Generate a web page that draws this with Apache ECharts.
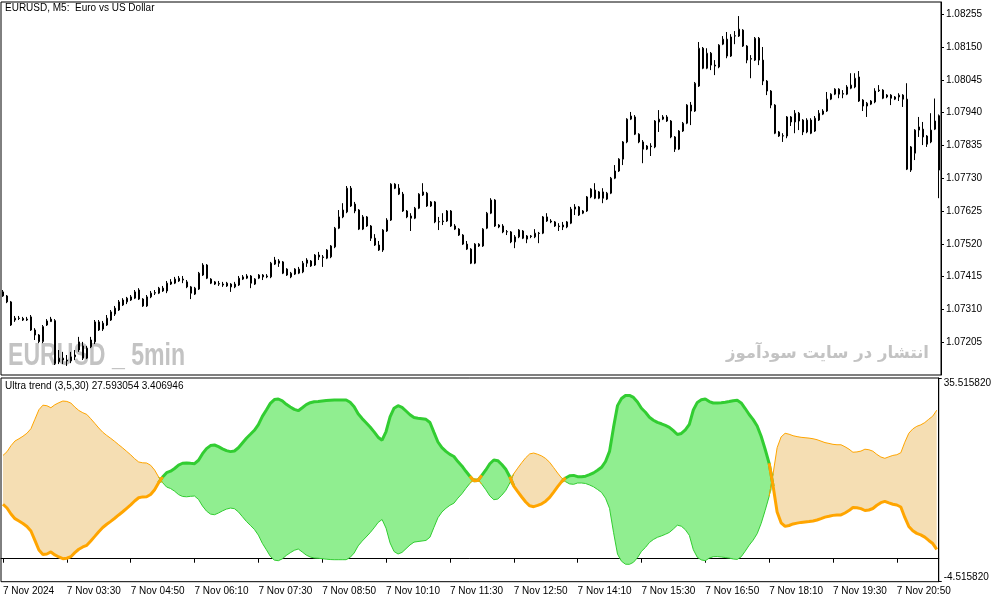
<!DOCTYPE html>
<html>
<head>
<meta charset="utf-8">
<script src="https://cdn.jsdelivr.net/npm/echarts@6/dist/echarts.min.js"></script>
<style>
html,body{margin:0;padding:0;background:#fff;}
#chart{width:994px;height:603px;}
</style>
</head>
<body>
<div id="chart"></div>
<script>
// ---- data ----
const timeLabels = ['7 Nov 2024','7 Nov 03:30','7 Nov 04:50','7 Nov 06:10','7 Nov 07:30','7 Nov 08:50','7 Nov 10:10','7 Nov 11:30','7 Nov 12:50','7 Nov 14:10','7 Nov 15:30','7 Nov 16:50','7 Nov 18:10','7 Nov 19:30','7 Nov 20:50'];

const openP = [
1.07366,1.07353,1.07334,1.07276,1.07282,1.07281,1.07276,1.07286,1.07244,1.07228,
1.07207,1.07260,1.07271,1.07274,1.07142,1.07154,1.07148,1.07145,1.07158,1.07180,
1.07193,1.07154,1.07190,1.07206,1.07270,1.07247,1.07260,1.07276,1.07295,1.07308,
1.07324,1.07334,1.07340,1.07346,1.07372,1.07343,1.07321,1.07350,1.07362,1.07362,
1.07378,1.07369,1.07391,1.07394,1.07401,1.07404,1.07398,1.07382,1.07359,1.07375,
1.07420,1.07452,1.07407,1.07398,1.07391,1.07391,1.07385,1.07391,1.07382,1.07388,
1.07407,1.07410,1.07417,1.07391,1.07410,1.07420,1.07414,1.07414,1.07455,1.07465,
1.07462,1.07439,1.07414,1.07423,1.07426,1.07430,1.07468,1.07465,1.07452,1.07484,
1.07478,1.07474,1.07478,1.07510,1.07570,1.07606,1.07622,1.07698,1.07647,1.07628,
1.07567,1.07606,1.07577,1.07538,1.07516,1.07500,1.07561,1.07596,1.07711,1.07698,
1.07679,1.07625,1.07609,1.07602,1.07634,1.07676,1.07682,1.07641,1.07654,1.07590,
1.07593,1.07593,1.07625,1.07577,1.07567,1.07548,1.07519,1.07503,1.07458,1.07513,
1.07513,1.07570,1.07618,1.07660,1.07580,1.07577,1.07558,1.07558,1.07526,1.07542,
1.07561,1.07535,1.07545,1.07542,1.07554,1.07554,1.07606,1.07593,1.07590,1.07577,
1.07580,1.07574,1.07586,1.07631,1.07638,1.07618,1.07625,1.07670,1.07692,1.07666,
1.07686,1.07663,1.07682,1.07730,1.07753,1.07791,1.07846,1.07919,1.07926,1.07871,
1.07846,1.07823,1.07833,1.07830,1.07910,1.07919,1.07926,1.07913,1.07862,1.07823,
1.07881,1.07906,1.07964,1.07945,1.08025,1.08146,1.08082,1.08130,1.08092,1.08086,
1.08159,1.08175,1.08121,1.08185,1.08185,1.08204,1.08153,1.08111,1.08108,1.08178,
1.08108,1.08041,1.08009,1.07964,1.07878,1.07865,1.07865,1.07926,1.07910,1.07938,
1.07916,1.07878,1.07916,1.07881,1.07916,1.07935,1.07945,1.07983,1.07999,1.08015,
1.07999,1.07999,1.08018,1.08022,1.08054,1.07980,1.07961,1.07967,1.07974,1.08012,
1.08012,1.07996,1.07996,1.07983,1.07990,1.07996,1.07983,1.07756,1.07810,1.07884,
1.07887,1.07865,1.07846,1.07887,1.07930];

const closeP = [
1.07353,1.07334,1.07260,1.07282,1.07281,1.07276,1.07279,1.07244,1.07228,1.07207,
1.07255,1.07273,1.07279,1.07137,1.07154,1.07148,1.07145,1.07158,1.07164,1.07206,
1.07154,1.07186,1.07212,1.07270,1.07244,1.07266,1.07282,1.07302,1.07314,1.07334,
1.07340,1.07346,1.07350,1.07366,1.07343,1.07321,1.07350,1.07362,1.07364,1.07378,
1.07369,1.07394,1.07398,1.07407,1.07410,1.07407,1.07382,1.07362,1.07378,1.07426,
1.07452,1.07410,1.07394,1.07391,1.07393,1.07388,1.07394,1.07382,1.07391,1.07410,
1.07414,1.07417,1.07394,1.07407,1.07420,1.07414,1.07417,1.07458,1.07468,1.07458,
1.07426,1.07420,1.07426,1.07439,1.07439,1.07458,1.07458,1.07449,1.07484,1.07478,
1.07476,1.07500,1.07513,1.07570,1.07606,1.07628,1.07698,1.07641,1.07625,1.07567,
1.07606,1.07577,1.07538,1.07516,1.07500,1.07564,1.07596,1.07711,1.07698,1.07679,
1.07625,1.07606,1.07602,1.07634,1.07679,1.07686,1.07641,1.07654,1.07590,1.07591,
1.07591,1.07625,1.07577,1.07567,1.07548,1.07519,1.07503,1.07458,1.07519,1.07519,
1.07567,1.07618,1.07660,1.07577,1.07574,1.07558,1.07559,1.07526,1.07542,1.07564,
1.07538,1.07545,1.07543,1.07554,1.07553,1.07606,1.07593,1.07590,1.07577,1.07575,
1.07574,1.07590,1.07631,1.07638,1.07612,1.07625,1.07670,1.07695,1.07666,1.07686,
1.07666,1.07682,1.07730,1.07753,1.07791,1.07846,1.07919,1.07929,1.07871,1.07846,
1.07823,1.07833,1.07831,1.07913,1.07919,1.07926,1.07913,1.07862,1.07823,1.07881,
1.07906,1.07964,1.07945,1.08034,1.08146,1.08082,1.08130,1.08092,1.08089,1.08156,
1.08175,1.08121,1.08182,1.08186,1.08207,1.08153,1.08108,1.08113,1.08178,1.08108,
1.08041,1.08009,1.07964,1.07874,1.07865,1.07866,1.07926,1.07910,1.07938,1.07913,
1.07878,1.07916,1.07874,1.07922,1.07938,1.07945,1.07983,1.07999,1.08015,1.07999,
1.08001,1.08022,1.08028,1.08050,1.07977,1.07961,1.07970,1.07977,1.08009,1.08010,
1.07986,1.07990,1.07986,1.07990,1.07996,1.07983,1.07759,1.07830,1.07884,1.07894,
1.07862,1.07839,1.07884,1.07913,1.07756];

const highP = [
1.07372,1.07356,1.07337,1.07289,1.07289,1.07286,1.07286,1.07292,1.07250,1.07231,
1.07260,1.07279,1.07286,1.07279,1.07180,1.07174,1.07164,1.07174,1.07180,1.07222,
1.07206,1.07193,1.07222,1.07276,1.07276,1.07273,1.07292,1.07308,1.07321,1.07340,
1.07346,1.07350,1.07356,1.07372,1.07378,1.07346,1.07356,1.07369,1.07372,1.07382,
1.07385,1.07401,1.07407,1.07414,1.07417,1.07417,1.07404,1.07385,1.07382,1.07430,
1.07458,1.07455,1.07410,1.07401,1.07401,1.07398,1.07398,1.07394,1.07398,1.07417,
1.07420,1.07423,1.07420,1.07410,1.07423,1.07423,1.07423,1.07462,1.07478,1.07471,
1.07465,1.07442,1.07430,1.07442,1.07446,1.07465,1.07474,1.07468,1.07487,1.07494,
1.07484,1.07503,1.07516,1.07574,1.07628,1.07650,1.07705,1.07705,1.07654,1.07631,
1.07612,1.07609,1.07580,1.07551,1.07529,1.07567,1.07602,1.07714,1.07714,1.07711,
1.07686,1.07628,1.07618,1.07638,1.07682,1.07714,1.07686,1.07657,1.07657,1.07606,
1.07618,1.07628,1.07628,1.07583,1.07570,1.07551,1.07529,1.07506,1.07522,1.07522,
1.07570,1.07622,1.07666,1.07663,1.07583,1.07583,1.07564,1.07561,1.07548,1.07567,
1.07564,1.07548,1.07548,1.07567,1.07558,1.07609,1.07618,1.07599,1.07593,1.07586,
1.07590,1.07593,1.07638,1.07647,1.07641,1.07628,1.07673,1.07698,1.07714,1.07689,
1.07698,1.07686,1.07734,1.07772,1.07794,1.07849,1.07922,1.07942,1.07932,1.07874,
1.07852,1.07836,1.07842,1.07916,1.07948,1.07932,1.07932,1.07916,1.07865,1.07884,
1.07910,1.07967,1.07974,1.08038,1.08166,1.08150,1.08146,1.08134,1.08108,1.08159,
1.08185,1.08198,1.08191,1.08201,1.08249,1.08207,1.08156,1.08124,1.08182,1.08182,
1.08150,1.08044,1.08012,1.07967,1.07881,1.07874,1.07929,1.07929,1.07948,1.07942,
1.07919,1.07922,1.07922,1.07929,1.07948,1.07951,1.08006,1.08002,1.08018,1.08018,
1.08012,1.08028,1.08066,1.08066,1.08073,1.07983,1.07974,1.07980,1.08018,1.08028,
1.08015,1.07999,1.07999,1.07993,1.08002,1.07999,1.08034,1.07833,1.07887,1.07926,
1.07910,1.07868,1.07938,1.07985,1.07934];

const lowP = [
1.07350,1.07330,1.07257,1.07270,1.07276,1.07273,1.07273,1.07241,1.07212,1.07202,
1.07202,1.07257,1.07270,1.07132,1.07135,1.07135,1.07129,1.07138,1.07148,1.07174,
1.07148,1.07151,1.07186,1.07199,1.07241,1.07241,1.07257,1.07273,1.07289,1.07305,
1.07321,1.07327,1.07337,1.07343,1.07340,1.07318,1.07318,1.07346,1.07356,1.07359,
1.07366,1.07362,1.07388,1.07391,1.07398,1.07394,1.07378,1.07343,1.07356,1.07372,
1.07417,1.07407,1.07391,1.07388,1.07385,1.07382,1.07382,1.07366,1.07378,1.07385,
1.07404,1.07407,1.07378,1.07388,1.07407,1.07404,1.07410,1.07410,1.07452,1.07446,
1.07423,1.07417,1.07410,1.07420,1.07423,1.07426,1.07446,1.07446,1.07449,1.07468,
1.07446,1.07471,1.07474,1.07506,1.07567,1.07602,1.07618,1.07638,1.07618,1.07564,
1.07564,1.07574,1.07529,1.07513,1.07497,1.07494,1.07558,1.07593,1.07695,1.07676,
1.07622,1.07602,1.07561,1.07599,1.07631,1.07673,1.07638,1.07638,1.07586,1.07564,
1.07580,1.07590,1.07574,1.07564,1.07545,1.07516,1.07500,1.07455,1.07455,1.07510,
1.07510,1.07567,1.07615,1.07574,1.07570,1.07554,1.07548,1.07522,1.07506,1.07538,
1.07535,1.07522,1.07538,1.07538,1.07522,1.07551,1.07590,1.07586,1.07574,1.07561,
1.07564,1.07570,1.07583,1.07612,1.07609,1.07615,1.07622,1.07666,1.07663,1.07663,
1.07650,1.07660,1.07679,1.07727,1.07750,1.07772,1.07842,1.07916,1.07868,1.07842,
1.07778,1.07820,1.07801,1.07826,1.07878,1.07916,1.07910,1.07858,1.07814,1.07820,
1.07878,1.07903,1.07900,1.07942,1.08022,1.08079,1.08079,1.08076,1.08060,1.08082,
1.08156,1.08114,1.08118,1.08159,1.08182,1.08150,1.08098,1.08050,1.08105,1.08092,
1.08028,1.07996,1.07954,1.07871,1.07862,1.07846,1.07858,1.07897,1.07874,1.07884,
1.07868,1.07874,1.07871,1.07878,1.07913,1.07932,1.07942,1.07980,1.07996,1.07986,
1.07986,1.07996,1.08015,1.08018,1.07974,1.07945,1.07926,1.07964,1.07970,1.08006,
1.07983,1.07986,1.07964,1.07980,1.07977,1.07958,1.07756,1.07750,1.07788,1.07862,
1.07836,1.07830,1.07842,1.07884,1.07666];

// Ultra trend buffers (bold line and its mirror line)
const ultraUp = [
10.70,9.97,8.79,7.87,7.42,6.93,6.34,5.45,3.59,1.72,
0.83,0.93,1.33,0.74,0.34,0.01,0.09,0.40,1.19,1.86,
2.31,2.64,3.49,4.39,5.31,6.14,6.77,7.34,7.95,8.60,
9.23,9.91,10.58,11.35,11.98,12.15,12.19,12.63,13.57,14.94,
16.06,16.91,17.20,17.73,18.40,18.76,18.83,18.74,18.68,19.35,
20.64,21.64,22.23,22.35,22.02,21.60,21.25,21.05,21.17,21.80,
22.74,23.67,24.45,25.24,26.36,27.97,29.23,30.53,31.27,31.39,
31.02,30.35,29.82,29.35,29.09,29.68,30.29,30.66,30.86,30.90,
31.00,31.08,31.16,31.19,31.19,31.19,31.19,30.74,29.88,28.48,
27.54,26.73,25.89,24.93,23.88,23.29,25.00,27.89,29.58,30.07,
29.76,29.03,28.29,27.74,27.62,27.52,27.40,26.77,24.83,22.94,
21.82,21.09,20.50,20.09,19.09,18.24,17.18,16.20,15.32,15.38,
16.38,17.44,18.66,19.40,19.27,18.52,17.58,16.12,14.29,13.19,
12.13,11.15,10.40,10.23,10.48,10.80,11.31,12.05,13.10,14.16,
15.14,15.87,16.30,16.38,16.12,16.12,16.22,16.51,16.87,17.40,
17.97,19.11,21.09,25.81,30.09,31.49,32.08,32.10,31.70,30.80,
29.56,28.78,27.81,27.22,26.79,26.52,26.20,25.83,25.16,24.41,
24.61,25.30,26.40,29.23,30.72,31.23,31.39,30.88,30.60,30.58,
30.66,30.76,30.88,31.05,31.13,30.62,29.52,28.34,27.34,26.08,
24.06,21.52,18.75,14.25,9.19,7.06,6.35,6.53,6.83,7.00,
7.14,7.22,7.30,7.42,7.61,7.89,8.18,8.34,8.52,8.60,
8.60,8.99,9.46,10.07,10.01,9.85,9.48,9.58,9.87,10.50,
11.01,11.27,10.97,10.70,10.56,10.17,8.11,6.34,5.49,4.98,
4.69,4.25,3.59,2.98,1.82];

const ultraDn = [
20.30,21.03,22.21,23.13,23.58,24.07,24.66,25.55,27.41,29.28,
30.17,30.07,29.67,30.26,30.66,30.99,30.91,30.60,29.81,29.14,
28.69,28.36,27.51,26.61,25.69,24.86,24.23,23.66,23.05,22.40,
21.77,21.09,20.42,19.65,19.02,18.85,18.81,18.37,17.43,16.06,
14.94,14.09,13.80,13.27,12.60,12.24,12.17,12.26,12.32,11.65,
10.36,9.36,8.77,8.65,8.98,9.40,9.75,9.95,9.83,9.20,
8.26,7.33,6.55,5.76,4.64,3.03,1.77,0.47,-0.27,-0.39,
-0.02,0.65,1.18,1.65,1.91,1.32,0.71,0.34,0.14,0.10,
0.00,-0.08,-0.16,-0.19,-0.19,-0.19,-0.19,0.26,1.12,2.52,
3.46,4.27,5.11,6.07,7.12,7.71,6.00,3.11,1.42,0.93,
1.24,1.97,2.71,3.26,3.38,3.48,3.60,4.23,6.17,8.06,
9.18,9.91,10.50,10.91,11.91,12.76,13.82,14.80,15.68,15.62,
14.62,13.56,12.34,11.60,11.73,12.48,13.42,14.88,16.71,17.81,
18.87,19.85,20.60,20.77,20.52,20.20,19.69,18.95,17.90,16.84,
15.86,15.13,14.70,14.62,14.88,14.88,14.78,14.49,14.13,13.60,
13.03,11.89,9.91,5.19,0.91,-0.49,-1.08,-1.10,-0.70,0.20,
1.44,2.22,3.19,3.78,4.21,4.48,4.80,5.17,5.84,6.59,
6.39,5.70,4.60,1.77,0.28,-0.23,-0.39,0.12,0.40,0.42,
0.34,0.24,0.12,-0.05,-0.13,0.38,1.48,2.66,3.66,4.92,
6.94,9.48,12.25,16.75,21.81,23.94,24.65,24.47,24.17,24.00,
23.86,23.78,23.70,23.58,23.39,23.11,22.82,22.66,22.48,22.40,
22.40,22.01,21.54,20.93,20.99,21.15,21.52,21.42,21.13,20.50,
19.99,19.73,20.03,20.30,20.44,20.83,22.89,24.66,25.51,26.02,
26.31,26.75,27.41,28.02,29.18];

const priceAxis = {min: 1.071, max: 1.08294, interval: 0.00105};
const ultraAxis = {min: -4.515820, max: 35.515820};

// ---- build ----
const N = openP.length;
function pad(n){ return (n < 10 ? '0' : '') + n; }
const categories = [];
for (let i = 0; i < N; i++) { const m = 2 * 60 + 10 + 5 * i; categories.push(pad(Math.floor(m / 60)) + ':' + pad(m % 60)); }

const candles = openP.map((o, i) => [o, closeP[i], lowP[i], highP[i]]);
const isUp = ultraUp.map((v, i) => v >= ultraDn[i]);
const base = ultraUp.map((v, i) => Math.min(v, ultraDn[i]));
const upBand = ultraUp.map((v, i) => isUp[i] ? +(v - ultraDn[i]).toFixed(4) : 0);
const dnBand = ultraUp.map((v, i) => isUp[i] ? 0 : +(ultraDn[i] - v).toFixed(4));
function seg(arr, want) {
  return arr.map((v, i) => (isUp[i] === want || (i > 0 && isUp[i - 1] === want) || (i < N - 1 && isUp[i + 1] === want)) ? v : null);
}
const GREEN = '#32CD32', ORANGE = '#FFA500';
const FONT = '"Liberation Sans", Arial, sans-serif';

function lineSeries(name, data, color, width, z) {
  return { name, type: 'line', xAxisIndex: 1, yAxisIndex: 1, data, symbol: 'none', connectNulls: false,
    lineStyle: { color, width }, z, silent: true };
}

const chart = echarts.init(document.getElementById('chart'), null, { renderer: 'canvas' });
chart.setOption({
  animation: false,
  backgroundColor: '#ffffff',
  textStyle: { fontFamily: FONT },
  grid: [
    { left: 1, top: 2, width: 940, height: 373, show: true, borderColor: '#000', borderWidth: 1, backgroundColor: 'transparent' },
    { left: 1, top: 378, width: 940, height: 203.7, show: true, borderColor: '#000', borderWidth: 1, backgroundColor: 'transparent' }
  ],
  xAxis: [
    { type: 'category', gridIndex: 0, data: categories, boundaryGap: true,
      axisLine: { show: false }, axisTick: { show: false }, axisLabel: { show: false }, splitLine: { show: false } },
    { type: 'category', gridIndex: 1, data: categories, boundaryGap: true,
      axisLine: { show: true, lineStyle: { color: '#000', width: 1 } },
      axisTick: { show: true, interval: 15, alignWithLabel: true, length: 4, lineStyle: { color: '#000' } },
      axisLabel: { show: true, interval: 15, align: 'left', margin: 5, fontSize: 10, color: '#000', fontFamily: FONT,
        formatter: (v, idx) => (idx % 16 === 0 ? timeLabels[idx / 16] : '') },
      splitLine: { show: false } }
  ],
  yAxis: [
    { type: 'value', gridIndex: 0, position: 'right', scale: true,
      min: priceAxis.min, max: priceAxis.max, interval: priceAxis.interval,
      axisLine: { show: true, lineStyle: { color: '#000' } },
      axisTick: { show: true, length: 3, lineStyle: { color: '#000' } },
      axisLabel: { show: true, margin: 5, fontSize: 10, color: '#000', fontFamily: FONT, showMinLabel: false, showMaxLabel: false,
        formatter: v => v.toFixed(5) },
      splitLine: { show: false } },
    { type: 'value', gridIndex: 1, position: 'right',
      min: ultraAxis.min, max: ultraAxis.max, interval: ultraAxis.max - ultraAxis.min,
      axisLine: { show: true, lineStyle: { color: '#000' } },
      axisTick: { show: true, length: 3, lineStyle: { color: '#000' } },
      axisLabel: { show: true, margin: 5, fontSize: 10, color: '#000', fontFamily: FONT,
        formatter: v => (v > 15 ? '{t|' + v.toFixed(6) + '}' : '{b|' + v.toFixed(6) + '}'),
        rich: { t: { padding: [11, 0, 0, 0], fontSize: 10, color: '#000', fontFamily: FONT },
                b: { padding: [0, 0, 8, 0], fontSize: 10, color: '#000', fontFamily: FONT } } },
      splitLine: { show: false } }
  ],
  series: [
    { name: 'EURUSD', type: 'candlestick', xAxisIndex: 0, yAxisIndex: 0, data: candles, barWidth: 2, z: 5, silent: true,
      itemStyle: { color: '#ffffff', color0: '#000000', borderColor: '#000000', borderColor0: '#000000', borderWidth: 1 } },
    { name: 'base', type: 'line', xAxisIndex: 1, yAxisIndex: 1, stack: 'ut', stackStrategy: 'all', data: base,
      symbol: 'none', lineStyle: { opacity: 0, width: 0 }, z: 2, silent: true },
    { name: 'upBand', type: 'line', xAxisIndex: 1, yAxisIndex: 1, stack: 'ut', stackStrategy: 'all', data: upBand,
      symbol: 'none', lineStyle: { opacity: 0, width: 0 }, areaStyle: { color: '#90EE90', opacity: 1 }, z: 2, silent: true },
    { name: 'dnBand', type: 'line', xAxisIndex: 1, yAxisIndex: 1, stack: 'ut', stackStrategy: 'all', data: dnBand,
      symbol: 'none', lineStyle: { opacity: 0, width: 0 }, areaStyle: { color: '#F5DEB3', opacity: 1 }, z: 2, silent: true },
    lineSeries('thinGreen', seg(ultraDn, true), GREEN, 1, 3),
    lineSeries('thinOrange', seg(ultraDn, false), ORANGE, 1, 3),
    lineSeries('boldGreen', seg(ultraUp, true), GREEN, 3, 4),
    lineSeries('boldOrange', seg(ultraUp, false), ORANGE, 3, 4)
  ],
  graphic: [
    { type: 'text', left: 5, top: 3, z: 10, style: { text: 'EURUSD, M5:  Euro vs US Dollar', font: '10px ' + FONT, fill: '#000' } },
    { type: 'text', left: 5, top: 381, z: 10, style: { text: 'Ultra trend (3,5,30) 27.593054 3.406946', font: '10px ' + FONT, fill: '#000' } },
    { type: 'text', x: 8, y: 356, scaleX: 0.745, z: 0, style: { text: 'EURUSD _ 5min', font: 'bold 31px "Liberation Sans", sans-serif', fill: '#c3c3c3', verticalAlign: 'middle', align: 'left' } },
    { type: 'text', x: 929, y: 354, z: 0, style: { text: 'انتشار در سایت سودآموز', font: 'bold 16.5px "DejaVu Sans", sans-serif', fill: '#c3c3c3', verticalAlign: 'middle', align: 'right' } }
  ]
});
</script>
</body>
</html>
